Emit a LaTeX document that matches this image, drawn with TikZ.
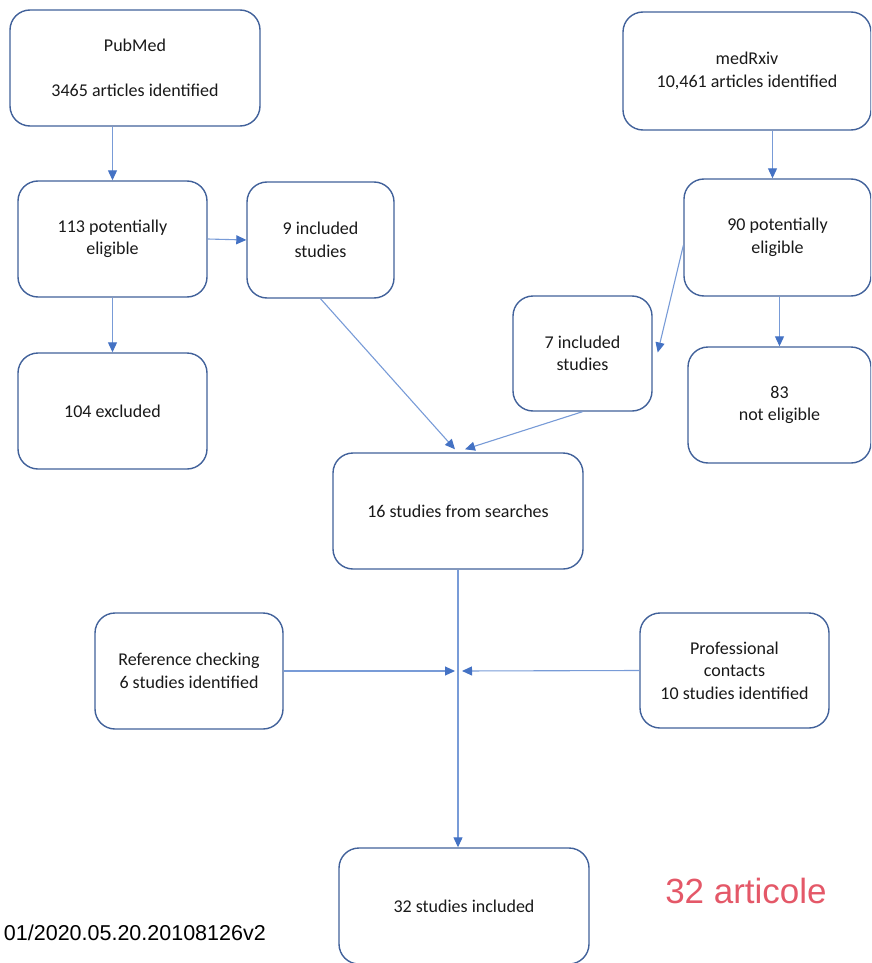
\documentclass[tikz,border=0pt]{standalone}
\usepackage{fontspec}
\setmainfont{Carlito}
\newfontfamily\arialfont{Liberation Sans}
\usetikzlibrary{arrows.meta}
\definecolor{boxblue}{RGB}{65,97,154}
\definecolor{arrblue}{RGB}{120,155,215}
\definecolor{tipblue}{RGB}{68,114,196}
\definecolor{notered}{RGB}{228,88,104}
\tikzset{
  flowbox/.style = {draw = boxblue, line width = 1.4pt, rounded corners = 20pt,
    align = center, text = black!90, inner sep = 0pt,
    font = \fontsize{18}{22.5}\selectfont},
  arr/.style = {draw = arrblue, line width = 1.1pt,
    -{Triangle[length = 10pt, width = 9pt, color = tipblue]}}
}

\begin{document}
\begin{tikzpicture}[x = 1pt, y = -1pt]
\useasboundingbox (0, 0) rectangle (871, 963);
\clip (0, 0) rectangle (871, 963);
% left branch
\node [flowbox, minimum width = 250pt, minimum height = 116pt] (pubmed) at (135, 68)
  {PubMed\\[22.5pt]3465 articles identified};
\node [flowbox, minimum width = 189pt, minimum height = 116pt] (pot113) at (112.5, 239)
  {113 potentially\\eligible};
\node [flowbox, minimum width = 147pt, minimum height = 116pt] (inc9) at (320.5, 240)
  {9 included\\studies};
\node [flowbox, minimum width = 189pt, minimum height = 116pt] (excl104) at (112.5, 411)
  {104 excluded};
% right branch
\node [flowbox, minimum width = 248pt, minimum height = 118pt] (medrxiv) at (747, 71)
  {medRxiv\\10,461 articles identified};
\node [flowbox, minimum width = 187pt, minimum height = 117pt] (pot90) at (777.5, 237.5)
  {90 potentially\\eligible};
\node [flowbox, minimum width = 139pt, minimum height = 115pt] (inc7) at (582.5, 353.5)
  {7 included\\studies};
\node [flowbox, minimum width = 183pt, minimum height = 116pt] (notel83) at (779.5, 405)
  {83\\not eligible};
% merged part
\node [flowbox, minimum width = 250pt, minimum height = 116pt] (search16) at (458, 511)
  {16 studies from searches};
\node [flowbox, minimum width = 188pt, minimum height = 116pt] (refcheck) at (189, 671)
  {Reference checking\\6 studies identified};
\node [flowbox, minimum width = 189pt, minimum height = 115pt] (profcont) at (734.5, 670.5)
  {Professional\\contacts\\10 studies identified};
\node [flowbox, minimum width = 250pt, minimum height = 116pt] (incl32) at (464, 906)
  {32 studies included};
\coordinate (meet) at (search16.south |- refcheck.east);
% arrows
\draw [arr] (pubmed.south -| pot113.north) -- (pot113.north);
\draw [arr] (pot113.east) -- (inc9.west);
\draw [arr] (pot113.south) -- (excl104.north);
\draw [arr] ([xshift = -5pt]pot90.north |- medrxiv.south) -- ([xshift = -5pt]pot90.north);
\draw [arr] (pot90.south -| notel83.north) -- (notel83.north);
\draw [arr] ([yshift = -8pt]pot90.west) -- ([xshift = 5pt, yshift = 1pt]inc7.east);
\draw [arr] (inc9.south) -- ([xshift = -3pt, yshift = 3pt]search16.north);
\draw [arr] (inc7.south) -- ([xshift = 7pt, yshift = 3pt]search16.north);
\draw [arr] (search16.south) -- (search16.south |- incl32.north);
\draw [arr, shorten >= 3pt] (refcheck.east) -- (meet);
\draw [arr, shorten >= 4pt] (profcont.west) -- (meet);
% side notes
\node [anchor = east, inner sep = 0pt, font = \arialfont\fontsize{21.5}{25}\selectfont]
  (doi) at (266, 933) {01/2020.05.20.20108126v2};
\node [inner sep = 0pt, text = notered, font = \arialfont\fontsize{35}{40}\selectfont]
  (articole) at (746, 891) {32 articole};
\end{tikzpicture}
\end{document}
